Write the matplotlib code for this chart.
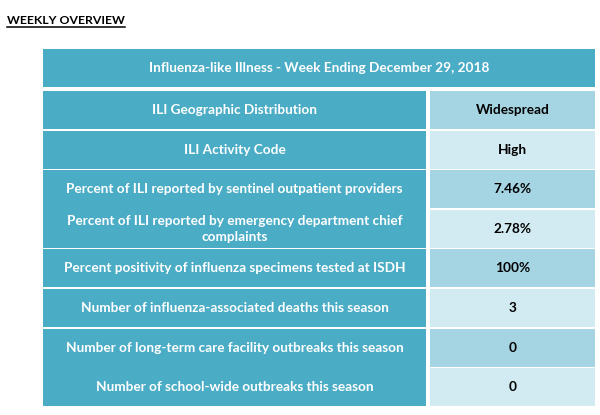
import matplotlib.pyplot as plt
import matplotlib.patches as patches

# table content
heading = "WEEKLY OVERVIEW"
header = "Influenza-like Illness - Week Ending December 29, 2018"
labels = [
    "ILI Geographic Distribution",
    "ILI Activity Code",
    "Percent of ILI reported by sentinel outpatient providers",
    "Percent of ILI reported by emergency department chief\ncomplaints",
    "Percent positivity of influenza specimens tested at ISDH",
    "Number of influenza-associated deaths this season",
    "Number of long-term care facility outbreaks this season",
    "Number of school-wide outbreaks this season",
]
values = ["Widespread", "High", "7.46%", "2.78%", "100%", "3", "0", "0"]
# number of value rows each dark label block covers
label_spans = [1, 1, 2, 1, 1, 2]

# layout (pixels)
X0, XMID, XVAL, X1 = 43, 426, 430, 595
HDR_TOP, HDR_BOT = 49, 87
ROW0, PITCH, CELL_H = 91, 39.6, 38

DARK = '#4BACC6'
BANDS = ['#A5D5E2', '#D2EAF1']
FONT = ['Lato', 'DejaVu Sans']
FS = 9.8

fig = plt.figure(figsize=(6, 4.15), dpi=100)
ax = fig.add_axes([0, 0, 1, 1])
ax.set_xlim(0, 600)
ax.set_ylim(415, 0)
ax.axis('off')

# heading with underline
t = ax.text(7, 20.5, heading, fontsize=8.8, fontweight='bold', family=FONT,
            va='center', ha='left', color='black')
fig.canvas.draw()
bb = t.get_window_extent().transformed(ax.transData.inverted())
ax.plot([bb.x0, bb.x1], [27.5, 27.5], color='black', lw=1.1)

# header bar
ax.add_patch(patches.Rectangle((X0, HDR_TOP), X1 - X0, HDR_BOT - HDR_TOP, color=DARK, lw=0))
ax.text((X0 + X1) / 2, (HDR_TOP + HDR_BOT) / 2, header, color='white', fontsize=FS,
        fontweight='bold', family=FONT, ha='center', va='center')

# dark label blocks
r = 0
for span in label_spans:
    top = ROW0 + r * PITCH
    h = (span - 1) * PITCH + CELL_H
    ax.add_patch(patches.Rectangle((X0, top), XMID - X0, h, color=DARK, lw=0))
    r += span

# labels and values
for i, (lab, val) in enumerate(zip(labels, values)):
    top = ROW0 + i * PITCH
    yc = top + CELL_H / 2
    ax.add_patch(patches.Rectangle((XVAL, top), X1 - XVAL, CELL_H, color=BANDS[i % 2], lw=0))
    ax.text((X0 + XMID) / 2, yc, lab, color='white', fontsize=FS, fontweight='bold',
            family=FONT, ha='center', va='center', linespacing=1.4)
    ax.text((XVAL + X1) / 2, yc, val, color='black', fontsize=FS, fontweight='bold',
            family=FONT, ha='center', va='center')

fig.savefig('out.png', dpi=100)
